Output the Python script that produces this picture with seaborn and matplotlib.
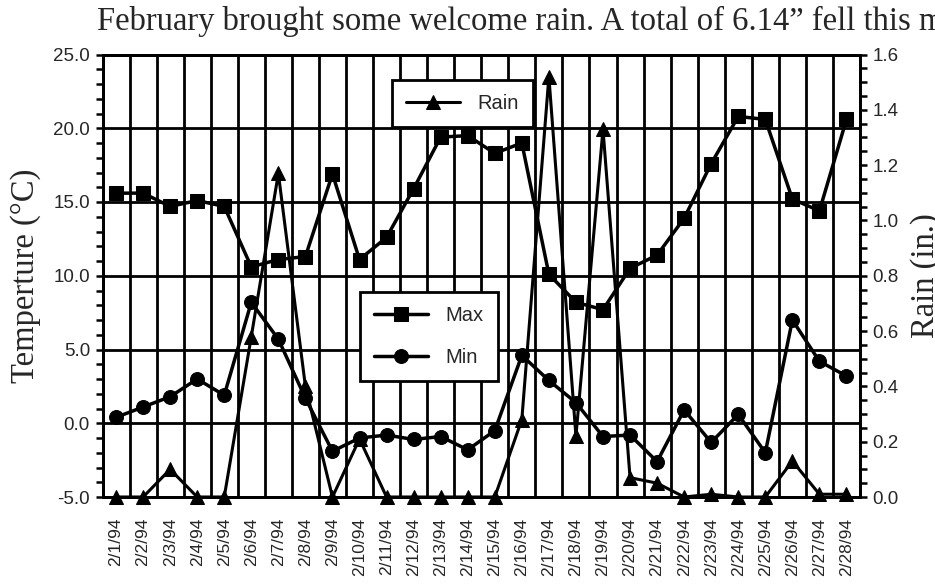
import numpy as np
import seaborn as sns
import matplotlib
matplotlib.use("Agg")
import matplotlib.pyplot as plt
from matplotlib.ticker import MultipleLocator, FormatStrFormatter

# daily data, February 1994
days = ["2/1/94", "2/2/94", "2/3/94", "2/4/94", "2/5/94", "2/6/94", "2/7/94",
        "2/8/94", "2/9/94", "2/10/94", "2/11/94", "2/12/94", "2/13/94", "2/14/94",
        "2/15/94", "2/16/94", "2/17/94", "2/18/94", "2/19/94", "2/20/94", "2/21/94",
        "2/22/94", "2/23/94", "2/24/94", "2/25/94", "2/26/94", "2/27/94", "2/28/94"]
t_max = [15.6, 15.6, 14.7, 15.1, 14.7, 10.6, 11.1, 11.3, 16.9, 11.1, 12.6, 15.9, 19.4, 19.5,
         18.3, 19.0, 10.1, 8.2, 7.7, 10.5, 11.4, 13.9, 17.6, 20.8, 20.6, 15.2, 14.4, 20.6]
t_min = [0.4, 1.1, 1.8, 3.0, 1.9, 8.2, 5.7, 1.7, -1.9, -1.0, -0.8, -1.1, -0.9, -1.8,
         -0.5, 4.6, 2.9, 1.4, -0.9, -0.8, -2.6, 0.9, -1.3, 0.6, -2.0, 7.0, 4.2, 3.2]
rain = [0.0, 0.0, 0.10, 0.0, 0.0, 0.58, 1.17, 0.40, 0.0, 0.21, 0.0, 0.0, 0.0, 0.0,
        0.0, 0.28, 1.52, 0.22, 1.33, 0.07, 0.05, 0.0, 0.01, 0.0, 0.0, 0.13, 0.01, 0.01]

title = "February brought some welcome rain. A total of 6.14\u201d fell this month."

sns.set_style("ticks")
plt.rcParams["font.family"] = ["Liberation Sans", "DejaVu Sans"]
plt.rcParams["axes.unicode_minus"] = False
serif = ["Liberation Serif", "DejaVu Serif"]

W, H = 935, 585
fig = plt.figure(figsize=(W / 100, H / 100), dpi=100)
left, right, top, bottom = 102.5, 860, 54.5, 497
ax1 = fig.add_axes([left / W, 1 - bottom / H, (right - left) / W, (bottom - top) / H])
ax2 = ax1.twinx()

x = np.arange(len(days))
lw = 2.5
sns.lineplot(x=x, y=t_max, ax=ax1, color="black", lw=lw, marker="s", markersize=9.5,
             markeredgecolor="black", label="Max", legend=False)
sns.lineplot(x=x, y=t_min, ax=ax1, color="black", lw=lw, marker="o", markersize=10,
             markeredgecolor="black", label="Min", legend=False)
sns.lineplot(x=x, y=rain, ax=ax2, color="black", lw=2.2, marker="^", markersize=9.5,
             markeredgecolor="black", label="Rain", legend=False, clip_on=False)

ax1.set_xlim(-0.5, len(days) - 0.5)
ax1.set_ylim(-5, 25)
ax2.set_ylim(0, 1.6)

# vertical grid between days, horizontal grid on temperature majors
ax1.set_xticks(x)
ax1.set_xticklabels(days, rotation=90, va="top", ha="center", fontsize=12.5)
ax1.set_xticks(np.arange(-0.5, len(days), 1), minor=True)
ax1.tick_params(axis="x", which="both", length=0, pad=15)
ax1.grid(which="minor", axis="x", color="black", lw=2.0)
ax1.grid(which="major", axis="y", color="black", lw=2.0)
ax1.set_axisbelow(True)

ax1.yaxis.set_major_locator(MultipleLocator(5))
ax1.yaxis.set_minor_locator(MultipleLocator(1))
ax1.yaxis.set_major_formatter(FormatStrFormatter("%.1f"))
ax2.yaxis.set_major_locator(MultipleLocator(0.2))
ax2.yaxis.set_minor_locator(MultipleLocator(0.05))
ax2.yaxis.set_major_formatter(FormatStrFormatter("%.1f"))
for ax in (ax1, ax2):
    ax.tick_params(axis="y", which="both", direction="out", length=5, width=1.8,
                   color="black", labelsize=13.5, pad=4)
    for sp in ax.spines.values():
        sp.set_color("black")
        sp.set_linewidth(2.0)

ax1.set_ylabel("Temperture (\u00b0C)", family=serif, fontsize=23.5)
ax1.yaxis.set_label_coords(-0.081, 0.5)
ax2.set_ylabel("Rain (in.)", family=serif, fontsize=23.5)
ax2.yaxis.set_label_coords(1.066, 0.5)

fig.text(97 / W, 1 - 30 / H, title, family=serif, fontsize=23.5, va="baseline", ha="left")

h1, l1 = ax1.get_legend_handles_labels()
h2, l2 = ax2.get_legend_handles_labels()
leg_kw = dict(loc="upper left", fontsize=14.5, frameon=True, fancybox=False, framealpha=1,
              edgecolor="black", borderaxespad=0, handlelength=2.7, handletextpad=0.85,
              borderpad=0.7)
leg_rain = ax2.legend(h2, l2, bbox_to_anchor=(0.3818, 0.9424), **leg_kw)
leg_rain.get_frame().set_linewidth(2.0)
ax2.add_artist(leg_rain)
leg_temp = ax2.legend(h1, l1, bbox_to_anchor=(0.3399, 0.464), labelspacing=1.15, **leg_kw)
leg_temp.get_frame().set_linewidth(2.0)

fig.savefig("out.png", dpi=100)
